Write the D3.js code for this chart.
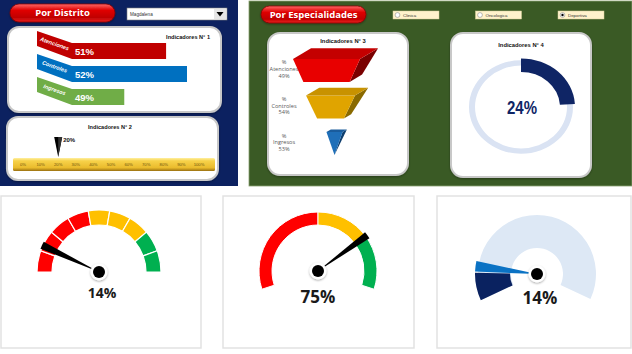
<!DOCTYPE html>
<html>
<head>
<meta charset="utf-8">
<script src="https://cdn.jsdelivr.net/npm/d3@7"></script>
<style>
  body { margin: 0; background: #fff; }
  svg { display: block; }
</style>
</head>
<body>
<div id="chart"></div>
<script>
// ---- datos del tablero ----
const distritoCats = ["Atenciones", "Controles", "Ingresos"]
const distritoVals = [51, 52, 49]
const distritoSel = "Magdalena"

const ind2Ticks = [0, 10, 20, 30, 40, 50, 60, 70, 80, 90, 100]
const ind2Val = 20

const especialidades = ["Clinica", "Oncologica", "Deportiva"]
const especialidadSel = "Deportiva"

const funnelCats = ["Atenciones", "Controles", "Ingresos"]
const funnelPct = [49, 54, 53]
const funnelTop = [100, 73, 24]
const funnelBottom = [69, 40, 0]

const ind4Val = 24

const gauge1Bands = [20, 20, 20, 20, 20, 20, 20, 20, 20]
const gauge1Val = 14
const gauge2Bands = [50, 25, 25]
const gauge2Val = 75
const gauge3Val = 14

// ---- estilos ----
const barColors = ["#c00000", "#0070c0", "#70ad47"]
const gauge1Colors = ["#ff0000", "#ff0000", "#ff0000", "#ff0000", "#ffc000", "#ffc000", "#ffc000", "#00b050", "#00b050"]
const gauge2Colors = ["#ff0000", "#ffc000", "#00b050"]
const funnelFaces = [
  {front: "#e80000", top: "#c40000", side: "#7a0000"},
  {front: "#e0a400", top: "#c89200", side: "#8a6a00"},
  {front: "#1f6fb8", top: "#1a5c9c", side: "#0e3e6e"}
]
const deg = Math.PI / 180

const svg = d3.select("#chart").append("svg")
  .attr("width", 632).attr("height", 354)

const defs = svg.append("defs")
defs.append("filter").attr("id", "sh").attr("x", "-30%").attr("y", "-30%").attr("width", "160%").attr("height", "160%")
  .append("feDropShadow").attr("dx", 0).attr("dy", 1).attr("stdDeviation", 1.2)
  .attr("flood-color", "#000").attr("flood-opacity", 0.35)

let pill = defs.append("linearGradient").attr("id", "pill").attr("x1", 0).attr("y1", 0).attr("x2", 0).attr("y2", 1)
pill.append("stop").attr("offset", "0%").attr("stop-color", "#ff6a6a")
pill.append("stop").attr("offset", "35%").attr("stop-color", "#e00000")
pill.append("stop").attr("offset", "75%").attr("stop-color", "#c00000")
pill.append("stop").attr("offset", "100%").attr("stop-color", "#e82020")

let gold = defs.append("linearGradient").attr("id", "gold").attr("x1", 0).attr("y1", 0).attr("x2", 0).attr("y2", 1)
gold.append("stop").attr("offset", "0%").attr("stop-color", "#fff0a0")
gold.append("stop").attr("offset", "22%").attr("stop-color", "#f7d24a")
gold.append("stop").attr("offset", "75%").attr("stop-color", "#eabb2c")
gold.append("stop").attr("offset", "100%").attr("stop-color", "#9a7010")

function redButton(g, x, y, w, h, label) {
  g.append("rect").attr("x", x).attr("y", y).attr("width", w).attr("height", h)
    .attr("rx", h / 2).attr("fill", "url(#pill)").attr("stroke", "#8a0000").attr("stroke-width", 0.8)
    .attr("filter", "url(#sh)")
  g.append("text").attr("x", x + w / 2).attr("y", y + h / 2 + 3.4)
    .attr("text-anchor", "middle").attr("fill", "#fff")
    .style("font", "bold 9.5px 'Open Sans'").text(label)
}

function card(g, x, y, w, h, r) {
  g.append("rect").attr("x", x).attr("y", y).attr("width", w).attr("height", h)
    .attr("rx", r).attr("fill", "#fff").attr("stroke", "#c8c8c8").attr("stroke-width", 2)
    .attr("filter", "url(#sh)")
}

/* ===== panel por distrito ===== */
const left = svg.append("g")
left.append("rect").attr("x", 0).attr("y", 0).attr("width", 238).attr("height", 186).attr("fill", "#0c2160")
redButton(left, 10, 4, 105, 18, "Por Distrito")

// selector
left.append("rect").attr("x", 127).attr("y", 8).attr("width", 100).attr("height", 12)
  .attr("fill", "#fff").attr("stroke", "#7f7f7f").attr("stroke-width", 0.6)
left.append("rect").attr("x", 214).attr("y", 9).attr("width", 12).attr("height", 10).attr("fill", "#e6e6e6")
left.append("path").attr("d", "M216.5,12 L223.5,12 L220,16.5 Z").attr("fill", "#000")
left.append("text").attr("x", 130).attr("y", 16).attr("fill", "#333")
  .style("font", "4.6px 'Liberation Sans'").text(distritoSel)

card(left, 8, 27, 213, 85, 11)
left.append("text").attr("x", 210).attr("y", 39).attr("text-anchor", "end").attr("fill", "#111")
  .style("font", "bold 5.6px 'Liberation Sans'").text("Indicadores N° 1")

const xBar = d3.scaleLinear().domain([46.5, 52]).range([72, 187])
const yBar = d3.scalePoint().domain(distritoCats).range([43, 89])
const bh = 16

distritoCats.forEach((c, i) => {
  let ty = yBar(c)
  left.append("path")
    .attr("d", `M37,${ty - 12} L72,${ty} L${xBar(distritoVals[i])},${ty} L${xBar(distritoVals[i])},${ty + bh} L72,${ty + bh} L37,${ty + 3} Z`)
    .attr("fill", barColors[i])
  left.append("text")
    .attr("transform", `translate(54,${ty + 2.5}) rotate(19)`)
    .attr("text-anchor", "middle").attr("fill", "#fff")
    .style("font", "italic bold 5.6px 'Liberation Sans'").text(c)
  left.append("text").attr("x", 75).attr("y", ty + 12).attr("fill", "#fff")
    .style("font", "bold 9.5px 'Liberation Sans'").text(distritoVals[i] + "%")
})

// indicador 2
card(left, 7, 117, 211, 63, 11)
left.append("text").attr("x", 110).attr("y", 129).attr("text-anchor", "middle").attr("fill", "#111")
  .style("font", "bold 5.6px 'Liberation Sans'").text("Indicadores N° 2")

const x2 = d3.scaleLinear().domain([0, 100]).range([23, 199])
left.append("rect").attr("x", 13).attr("y", 158).attr("width", 202).attr("height", 13)
  .attr("rx", 1.5).attr("fill", "url(#gold)")
left.selectAll(".tk2").data(ind2Ticks).enter().append("text")
  .attr("class", "tk2").attr("x", d => x2(d)).attr("y", 165.6)
  .attr("text-anchor", "middle").attr("fill", "#6e540c")
  .style("font", "4.2px 'Liberation Sans'").text(d => d + "%")

let px = x2(ind2Val)
left.append("path").attr("d", `M${px - 4},137 L${px + 4},137 L${px},157 Z`).attr("fill", "#000")
left.append("path").attr("d", `M${px},137 L${px + 4},137 L${px},157 Z`).attr("fill", "#333")
left.append("text").attr("x", px + 5).attr("y", 142).attr("fill", "#111")
  .style("font", "bold 6px 'Liberation Sans'").text(ind2Val + "%")

/* ===== panel por especialidades ===== */
const right = svg.append("g")
right.append("rect").attr("x", 249).attr("y", 1).attr("width", 383).attr("height", 185)
  .attr("fill", "#3a5a25").attr("stroke", "#8aa070").attr("stroke-width", 0.8)
redButton(right, 261, 6, 105, 17, "Por Especialidades")

const xRadio = d3.scalePoint().domain(especialidades).range([393, 558])
especialidades.forEach(e => {
  let rx = xRadio(e)
  right.append("rect").attr("x", rx).attr("y", 11).attr("width", 46).attr("height", 8)
    .attr("fill", "#fff2cc").attr("stroke", "#d8cf9a").attr("stroke-width", 0.5)
  right.append("circle").attr("cx", rx + 4.5).attr("cy", 15).attr("r", 2.4)
    .attr("fill", "#fff").attr("stroke", "#777").attr("stroke-width", 0.5)
  if (e === especialidadSel) {
    right.append("circle").attr("cx", rx + 4.5).attr("cy", 15).attr("r", 1.2).attr("fill", "#000")
  }
  right.append("text").attr("x", rx + 10).attr("y", 16.6).attr("fill", "#333")
    .style("font", "4.4px 'Liberation Sans'").text(e)
})

// indicador 3 (embudo)
card(right, 268, 33, 140, 142, 12)
right.append("text").attr("x", 343).attr("y", 43).attr("text-anchor", "middle").attr("fill", "#111")
  .style("font", "bold 5.8px 'Liberation Sans'").text("Indicadores N° 3")

const yF = d3.scaleBand().domain(funnelCats).range([59, 155]).paddingInner(0.37)
const wF = d3.scaleLinear().domain([0, 100]).range([0, 67])
const cF = d3.scalePoint().domain(funnelCats).range([326.5, 334.5])

funnelCats.forEach((c, i) => {
  let lines = ["%", c, funnelPct[i] + "%"]
  let ly = yF(c) + yF.bandwidth() / 2 - 6
  right.selectAll(null).data(lines).enter().append("text")
    .attr("x", 284).attr("y", (d, k) => ly + k * 6.6)
    .attr("text-anchor", "middle").attr("fill", "#595959")
    .style("font", "5.6px 'Open Sans'").text(d => d)
})

funnelCats.forEach((c, i) => {
  let y0 = yF(c), y1 = y0 + yF.bandwidth(), cx = cF(c)
  let wt = wF(funnelTop[i]), wb = wF(funnelBottom[i])
  let dxT = wt * 0.27, dyT = wt * 0.16, dxB = wb * 0.27, dyB = wb * 0.16
  let fl = [cx - wt / 2, y0], fr = [cx + wt / 2, y0]
  let bl = [cx - wb / 2, y1], br = [cx + wb / 2, y1]
  let g = right.append("g")
  g.append("path").attr("d", d3.line()([fr, [fr[0] + dxT, fr[1] - dyT], [br[0] + dxB, br[1] - dyB], br]) + "Z")
    .attr("fill", funnelFaces[i].side)
  g.append("path").attr("d", d3.line()([fl, fr, br, bl]) + "Z").attr("fill", funnelFaces[i].front)
  g.append("path").attr("d", d3.line()([fl, [fl[0] + dxT, fl[1] - dyT], [fr[0] + dxT, fr[1] - dyT], fr]) + "Z")
    .attr("fill", funnelFaces[i].top)
})

// indicador 4 (anillo)
card(right, 451, 33, 140, 144, 12)
right.append("text").attr("x", 521).attr("y", 47).attr("text-anchor", "middle").attr("fill", "#111")
  .style("font", "bold 5.8px 'Liberation Sans'").text("Indicadores N° 4")

const ring = right.append("g").attr("transform", "translate(521,107) scale(1,0.9)")
ring.append("path").attr("d", d3.arc()({innerRadius: 46, outerRadius: 52, startAngle: 0, endAngle: 2 * Math.PI}))
  .attr("fill", "#dae3f3")
const a4 = d3.scaleLinear().domain([0, 100]).range([0, 2 * Math.PI])
ring.append("path").attr("d", d3.arc()({innerRadius: 39, outerRadius: 54, startAngle: 0, endAngle: a4(ind4Val)}))
  .attr("fill", "#0f2565")
right.append("text").attr("x", 522).attr("y", 114).attr("text-anchor", "middle").attr("fill", "#0f2565")
  .attr("textLength", 30).attr("lengthAdjust", "spacingAndGlyphs")
  .style("font", "bold 19px 'Liberation Sans'").text(ind4Val + "%")

/* ===== velocimetros inferiores ===== */
const bottom = svg.append("g")
const boxes = [[1, 200], [223, 191], [437, 194]]
boxes.forEach(b => {
  bottom.append("rect").attr("x", b[0]).attr("y", 196).attr("width", b[1]).attr("height", 152)
    .attr("fill", "#fff").attr("stroke", "#e2e2e2").attr("stroke-width", 1.5)
})

function hub(g) {
  g.append("circle").attr("r", 8.5).attr("fill", "#fff").attr("filter", "url(#sh)")
  g.append("circle").attr("r", 6).attr("fill", "#000")
}

// gauge 1
const g1 = bottom.append("g").attr("transform", "translate(99,272)")
const a1 = d3.scaleLinear().domain([0, 100]).range([-90 * deg, 90 * deg])
const pie1 = d3.pie().sort(null).startAngle(-90 * deg).endAngle(90 * deg)(gauge1Bands)
g1.selectAll(".s1").data(pie1).enter().append("path").attr("class", "s1")
  .attr("d", d3.arc().innerRadius(47).outerRadius(62))
  .attr("fill", (d, i) => gauge1Colors[i]).attr("stroke", "#fff").attr("stroke-width", 1.2)
g1.append("path").attr("d", d3.arc()({innerRadius: 0, outerRadius: 63, startAngle: a1(gauge1Val) - 3.5 * deg, endAngle: a1(gauge1Val) + 3.5 * deg}))
  .attr("fill", "#000")
hub(g1)
bottom.append("text").attr("x", 102).attr("y", 298).attr("text-anchor", "middle").attr("fill", "#1a1a1a")
  .style("font", "bold 14px 'Open Sans'").text(gauge1Val + "%")

// gauge 2
const g2 = bottom.append("g").attr("transform", "translate(318,271)")
const a2 = d3.scaleLinear().domain([0, 100]).range([-108 * deg, 108 * deg])
const pie2 = d3.pie().sort(null).startAngle(-108 * deg).endAngle(108 * deg)(gauge2Bands)
g2.selectAll(".s2").data(pie2).enter().append("path").attr("class", "s2")
  .attr("d", d3.arc().innerRadius(46).outerRadius(59))
  .attr("fill", (d, i) => gauge2Colors[i]).attr("stroke", "#fff").attr("stroke-width", 1)
g2.append("path").attr("d", d3.arc()({innerRadius: 0, outerRadius: 61, startAngle: a2(gauge2Val) - 3.5 * deg, endAngle: a2(gauge2Val) + 3.5 * deg}))
  .attr("fill", "#000")
hub(g2)
bottom.append("text").attr("x", 318).attr("y", 303).attr("text-anchor", "middle").attr("fill", "#1a1a1a")
  .style("font", "bold 17px 'Open Sans'").text(gauge2Val + "%")

// gauge 3
const g3 = bottom.append("g").attr("transform", "translate(537,274)")
const a3 = d3.scaleLinear().domain([0, 100]).range([-115 * deg, 115 * deg])
g3.append("path").attr("d", d3.arc()({innerRadius: 26, outerRadius: 59, startAngle: a3(0), endAngle: a3(100)}))
  .attr("fill", "#dde8f5")
g3.append("path").attr("d", d3.arc()({innerRadius: 27, outerRadius: 62, startAngle: a3(0), endAngle: a3(gauge3Val) - 6 * deg}))
  .attr("fill", "#0a2260")
g3.append("path").attr("d", d3.arc()({innerRadius: 0, outerRadius: 62, startAngle: a3(gauge3Val) - 5 * deg, endAngle: a3(gauge3Val) + 5 * deg}))
  .attr("fill", "#0a72c4")
hub(g3)
bottom.append("text").attr("x", 540).attr("y", 304).attr("text-anchor", "middle").attr("fill", "#1a1a1a")
  .style("font", "bold 17px 'Open Sans'").text(gauge3Val + "%")
</script>
</body>
</html>
